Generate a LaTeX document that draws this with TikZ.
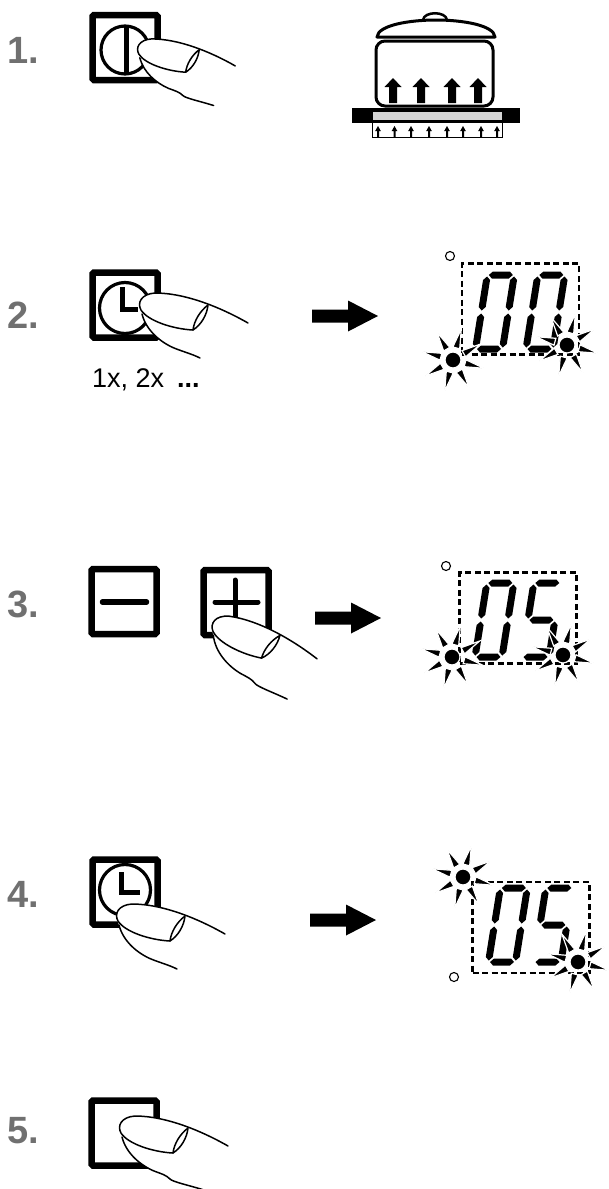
\documentclass[tikz,border=0pt]{standalone}
\usepackage{fontspec}
\setmainfont{Liberation Sans}
\definecolor{stepgray}{RGB}{112,112,112}
\definecolor{hobgray}{RGB}{214,214,214}

% seven-segment pieces (local frame: bottom-left corner of the centre lines)
\newcommand\segH[1]{\fill (1.5,#1) -- (5,#1-3.5) -- (22,#1-3.5) -- (25.5,#1) -- (22,#1+3.5) -- (5,#1+3.5) -- cycle;}
\newcommand\segV[3]{\fill (#1,#2) -- (#1+3.5,#2+3.5) -- (#1+3.5,#3-3.5) -- (#1,#3) -- (#1-3.5,#3-3.5) -- (#1-3.5,#2+3.5) -- cycle;}

% finger: pad outline, upper edge and nail
\newcommand\fingertop{%
  \draw[fingerline] (53,28) .. controls (33,27) and (8,19) .. (1,8)
     .. controls (-3,1) and (1,-8) .. (15,-9)
     .. controls (45,-9) and (80,5) .. (108,21);
  \draw[fingerline] (68,3) .. controls (60,9) and (54,19) .. (53,28)
     .. controls (61,23) and (67,13) .. (68,3);
}

\tikzset{
  fingerline/.style={line width=1.5pt, line cap=round, line join=round},
  finger/.pic={
    \fill[white] (2,12) .. controls (-3,2) and (1,-8) .. (15,-9)
      .. controls (45,-9) and (80,5) .. (108,21) -- (60,56)
      .. controls (52,52) and (44,50) .. (34,46)
      .. controls (20,40) and (6,28) .. (2,12) -- cycle;
    \fingertop
    \draw[fingerline] (2,12) .. controls (6,28) and (20,40) .. (34,46)
      .. controls (44,50) and (52,52) .. (60,56);
  },
  longfinger/.pic={
    \fill[white] (2,12) .. controls (-3,2) and (1,-8) .. (15,-9)
      .. controls (45,-9) and (80,5) .. (108,21) -- (84,65)
      .. controls (68,60) and (53,57) .. (50,54)
      .. controls (46,50) and (42,49) .. (34,46)
      .. controls (20,40) and (6,28) .. (2,12) -- cycle;
    \fingertop
    \draw[fingerline] (2,12) .. controls (6,28) and (20,40) .. (34,46)
      .. controls (42,49) and (46,50) .. (50,54)
      .. controls (53,57) and (68,60) .. (84,65);
  },
  lcd zero/.pic={\segH{-74}\segH{0}\segV{27}{-72.5}{-38.5}\segV{27}{-35.5}{-1.5}\segV{0}{-35.5}{-1.5}\segV{0}{-72.5}{-38.5}},
  lcd five/.pic={\segH{-74}\segH{-37}\segH{0}\segV{0}{-72.5}{-38.5}\segV{27}{-35.5}{-1.5}},
  sun/.pic={
    \foreach \a in {15,60,...,330}
      \filldraw[fill=black,draw=white,line width=1.2pt] (\a-16:13) -- (\a:32) -- (\a+16:13) -- cycle;
    \filldraw[fill=black,draw=white,line width=1.2pt] (0,0) circle (8);
  },
  goarrow/.pic={\fill (0,-6.5) -- (36,-6.5) -- (36,-15.5) -- (66,0) -- (36,15.5) -- (36,6.5) -- (0,6.5) -- cycle;},
  potarrow/.pic={\fill (-8.5,87) -- (0,78) -- (8.5,87) -- (4,87) -- (4,103) -- (-4,103) -- (-4,87) -- cycle;},
  heatarrow/.pic={\fill (-2.8,131) -- (0,126) -- (2.8,131) -- (1,131) -- (1,137) -- (-1,137) -- (-1,131) -- cycle;},
}

\begin{document}
\begin{tikzpicture}[x=1pt,y=-1pt,
  steplabel/.style={anchor=base west, inner sep=0pt, text=stepgray,
    font=\fontsize{38}{38}\selectfont\bfseries},
  keybox/.style={draw, line width=6.5pt, minimum width=65pt, minimum height=65pt,
    inner sep=0pt, rounded corners=1.5pt},
  lcdbox/.style={draw, line width=2.4pt, dash pattern=on 6pt off 3.5pt,
    minimum width=117pt, minimum height=91pt, inner sep=0pt},
  dotmark/.style={draw, circle, line width=1.1pt, minimum size=9pt, inner sep=0pt},
  symline/.style={line width=3.2pt},
  hand/.style={line width=5pt, line join=miter},
]
\useasboundingbox (0,0) rectangle (608,1189);

% ---------- step labels ----------
\node[steplabel] (l1) at (7,63) {1.};
\node[steplabel] (l2) at (7,328) {2.};
\node[steplabel] (l3) at (7,617) {3.};
\node[steplabel] (l4) at (7,907) {4.};
\node[steplabel] (l5) at (7,1143) {5.};

% ---------- step 1: on/off key and pot on the hob ----------
\node[keybox] (k1) at (125,47.5) {};
\draw[symline] (125,50) circle (24);
\draw[line width=4.5pt] (126.5,26) -- (126.5,74);
\pic[scale=0.9] at (138,47) {longfinger};

\filldraw[fill=white, line width=2.5pt] (423,20) .. controls (424,11) and (446,11) .. (447,20);
\draw[line width=3pt, line join=round] (377,37) .. controls (378,25) and (410,20) .. (436,20)
  .. controls (462,20) and (494,25) .. (495,37) -- cycle;
\draw[line width=3pt, rounded corners=9pt] (376,41) rectangle (493,106);
\foreach \cx in {393,421,452,478} \pic at (\cx,0) {potarrow};
\fill (352,108) rectangle (520,123);
\filldraw[fill=hobgray, draw=black, line width=0.6pt] (372,111.5) rectangle (502,120.5);
\draw[line width=0.8pt] (372,123) -- (372,137) -- (502,137) -- (502,123);
\foreach \cx in {378,394.5,411,429,447,463,481,497} \pic at (\cx,0) {heatarrow};

% ---------- step 2: timer key ----------
\node[keybox] (k2) at (125,305) {};
\draw[symline] (125,308) circle (25.5);
\draw[hand] (122.5,287) -- (122.5,309) -- (138,309);
\pic at (140,302) {finger};
\node[anchor=base west, inner sep=0pt, font=\fontsize{27}{27}\selectfont] (t2) at (92,387)
  {1x, 2x\hspace{13pt}\textbf{...}};
\pic at (312,316) {goarrow};
\node[lcdbox] (d2) at (520.5,309) {};
\node[dotmark] (o2) at (450,256) {};
\pic[xslant=0.16] at (475.5,349) {lcd zero};
\pic[xslant=0.16] at (526,349) {lcd zero};
\pic at (453,360) {sun};
\pic at (567,345) {sun};

% ---------- step 3: minus / plus keys ----------
\node[keybox] (k3m) at (124,601.5) {};
\draw[line width=5.5pt, line cap=round] (102.5,602) -- (146.5,602);
\node[keybox] (k3p) at (236,602.5) {};
\draw[line width=5pt, line cap=round] (215,602) -- (258,602);
\draw[line width=5pt, line cap=round] (235,580) -- (235,625);
\pic[rotate=-8] at (213,623) {longfinger};
\pic at (315,618) {goarrow};
\node[lcdbox] (d3) at (518,618) {};
\node[dotmark] (o3) at (446,566) {};
\pic[xslant=0.16] at (475,657) {lcd zero};
\pic[xslant=0.16] at (522,657) {lcd five};
\pic at (452,657) {sun};
\pic at (563,655) {sun};

% ---------- step 4: timer key again ----------
\node[keybox] (k4) at (125,892) {};
\draw[symline] (125,890) circle (25.5);
\draw[hand] (121.5,872) -- (121.5,892.5) -- (140,892.5);
\pic at (117,913) {finger};
\pic at (310,920) {goarrow};
\node[lcdbox] (d4) at (531,927.5) {};
\node[dotmark] (o4) at (454,977) {};
\pic[xslant=0.16] at (488.5,962) {lcd zero};
\pic[xslant=0.16] at (534,962) {lcd five};
\pic at (463,877) {sun};
\pic at (578,962) {sun};

% ---------- step 5: blank key ----------
\node[keybox] (k5) at (124,1133) {};
\pic at (120,1125) {longfinger};
\end{tikzpicture}
\end{document}
